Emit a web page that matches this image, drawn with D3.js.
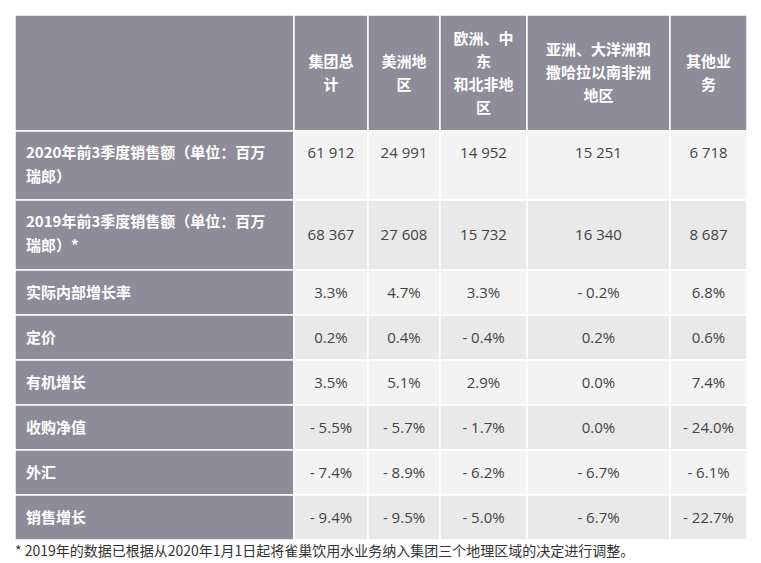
<!DOCTYPE html><html><head><meta charset="utf-8"><script src="https://cdn.jsdelivr.net/npm/d3@7"></script>
<style>body{margin:0;background:#fff}</style></head><body><svg id="c" width="761" height="563"></svg>
<script>
const headers=[[""],["集团总","计"],["美洲地","区"],["欧洲、中","东","和北非地","区"],["亚洲、大洋洲和","撒哈拉以南非洲","地区"],["其他业","务"]];
const rowLabels=[["2020年前3季度销售额（单位：百万","瑞郎）"],["2019年前3季度销售额（单位：百万","瑞郎）*"],["实际内部增长率"],["定价"],["有机增长"],["收购净值"],["外汇"],["销售增长"]];
const values=[
["61 912","24 991","14 952","15 251","6 718"],
["68 367","27 608","15 732","16 340","8 687"],
["3.3%","4.7%","3.3%","- 0.2%","6.8%"],
["0.2%","0.4%","- 0.4%","0.2%","0.6%"],
["3.5%","5.1%","2.9%","0.0%","7.4%"],
["- 5.5%","- 5.7%","- 1.7%","0.0%","- 24.0%"],
["- 7.4%","- 8.9%","- 6.2%","- 6.7%","- 6.1%"],
["- 9.4%","- 9.5%","- 5.0%","- 6.7%","- 22.7%"]];
const footnote="* 2019年的数据已根据从2020年1月1日起将雀巢饮用水业务纳入集团三个地理区域的决定进行调整。";
const colEdges=[15,294,368,440,527,670,747];
const rowEdges=[15,131,200,270,315,360,405,450,495,540];
const svg=d3.select("#c");
const font="'Noto Sans CJK SC','Open Sans',sans-serif";
const gray="#8e8c98";
function cell(x0,x1,y0,y1,fill){svg.append("rect").attr("x",x0).attr("y",y0).attr("width",x1-x0).attr("height",y1-y0).attr("fill",fill).attr("stroke","#fff").attr("stroke-width",1.5);}
// header
headers.forEach((h,i)=>{const x0=colEdges[i],x1=colEdges[i+1];cell(x0,x1,rowEdges[0],rowEdges[1],gray);
 const cy=(rowEdges[0]+rowEdges[1])/2,lh=23;
 h.forEach((t,k)=>svg.append("text").attr("x",(x0+x1)/2).attr("y",cy+(k-(h.length-1)/2)*lh).attr("dy","0.35em").attr("text-anchor","middle").attr("fill","#fff").attr("font-weight","bold").attr("font-size",15).attr("font-family",font).text(t));});
rowLabels.forEach((lab,r)=>{const y0=rowEdges[r+1],y1=rowEdges[r+2];
 cell(colEdges[0],colEdges[1],y0,y1,gray);
 const lh=24,ty=(r<2)?y0+22:(y0+y1)/2;
 lab.forEach((t,k)=>svg.append("text").attr("x",colEdges[0]+11).attr("y",ty+k*lh).attr("dy","0.35em").attr("fill","#fff").attr("font-weight","bold").attr("font-size",15).attr("font-family",font).text(t));
 values[r].forEach((v,c)=>{const x0=colEdges[c+1],x1=colEdges[c+2];cell(x0,x1,y0,y1,r%2?"#e9e9e9":"#f3f3f3");
  const vy=(r===0)?y0+22:(y0+y1)/2;
  svg.append("text").attr("x",(x0+x1)/2).attr("y",vy).attr("dy","0.35em").attr("text-anchor","middle").attr("fill","#444").attr("font-size",15).attr("font-family","'Open Sans',sans-serif").text(v);});
});
svg.append("text").attr("x",15).attr("y",551).attr("dy","0.35em").attr("fill","#333").attr("font-size",14).attr("font-family",font).text(footnote);
</script></body></html>
